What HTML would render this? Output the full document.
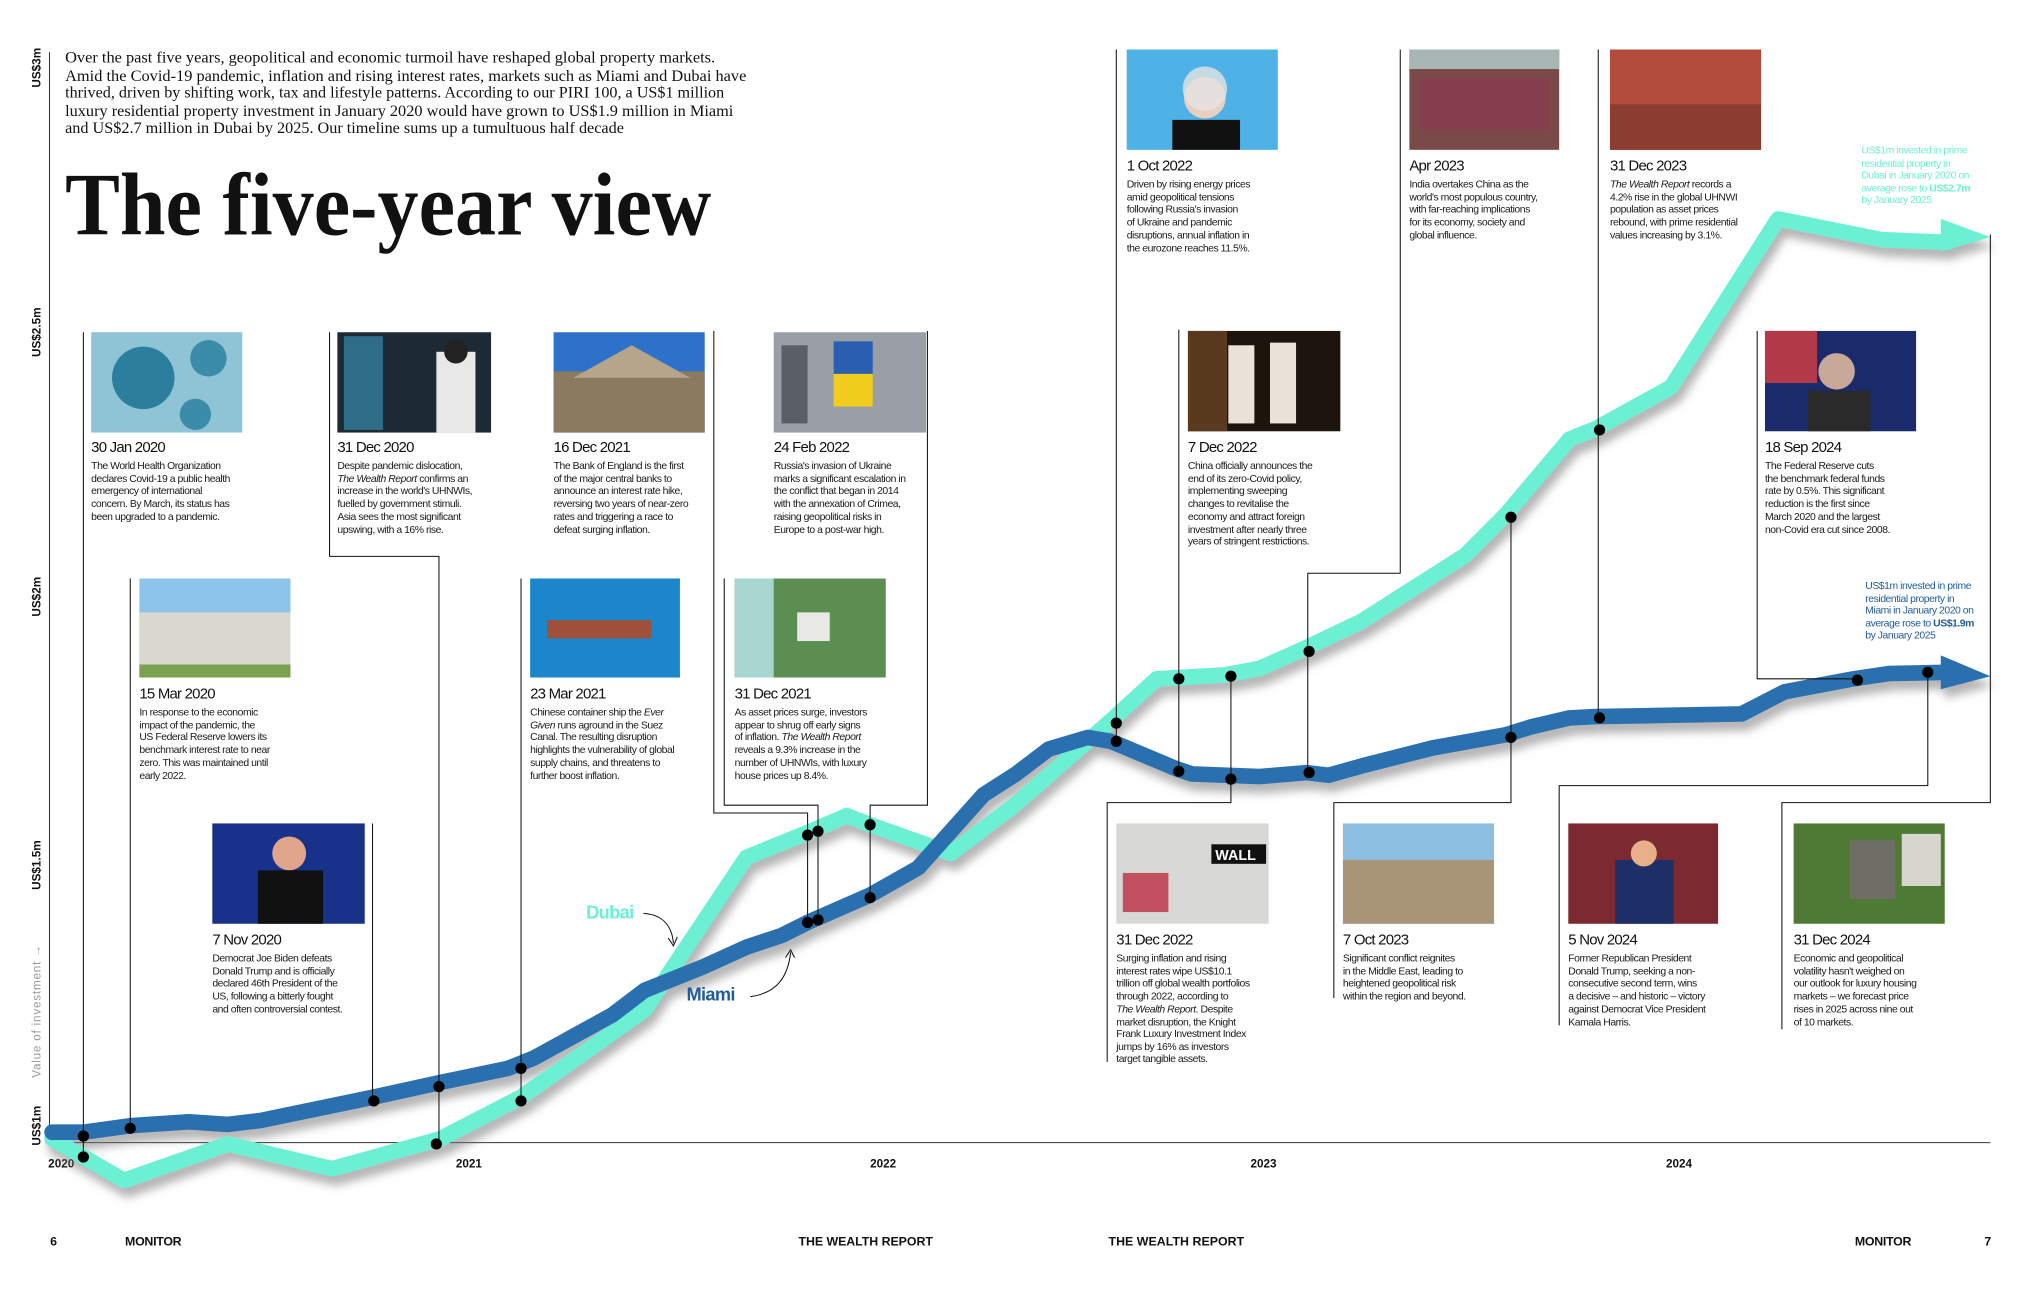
<!DOCTYPE html>
<html><head><meta charset="utf-8"><style>
html,body{margin:0;padding:0;background:#fff}
svg{display:block}
.b{font-family:"Liberation Sans",sans-serif;font-size:8px;letter-spacing:-0.35px;fill:#1a1a1a}
.d{font-family:"Liberation Sans",sans-serif;font-size:11.5px;letter-spacing:-0.6px;fill:#111}
.ax{font-family:"Liberation Sans",sans-serif;font-size:9px;font-weight:bold;fill:#111}
.ft{font-family:"Liberation Sans",sans-serif;font-size:9.5px;font-weight:bold;fill:#111;letter-spacing:-0.2px}
.c{fill:none;stroke:#111;stroke-width:0.8}
</style></head><body>
<svg width="2032" height="1299" viewBox="0 0 1560 997" preserveAspectRatio="none" xmlns="http://www.w3.org/2000/svg">
<defs>
<filter id="sh" x="-10%" y="-10%" width="120%" height="130%"><feDropShadow dx="3" dy="7" stdDeviation="3.5" flood-color="#777" flood-opacity="0.55"/></filter>
</defs>
<!-- axes -->
<line x1="38" y1="40" x2="38" y2="878" stroke="#333" stroke-width="0.8"/>
<line x1="38" y1="877" x2="1528" y2="877" stroke="#333" stroke-width="0.8"/>
<g class="ax">
<text transform="translate(31,52) rotate(-90)" text-anchor="middle">US$3m</text>
<text transform="translate(31,255) rotate(-90)" text-anchor="middle">US$2.5m</text>
<text transform="translate(31,458) rotate(-90)" text-anchor="middle">US$2m</text>
<text transform="translate(31,664) rotate(-90)" text-anchor="middle">US$1.5m</text>
<text transform="translate(31,776) rotate(-90)" text-anchor="middle" style="fill:#999;font-weight:normal;letter-spacing:0.6px">Value of investment  →</text>
<text transform="translate(31,864) rotate(-90)" text-anchor="middle">US$1m</text>
<text x="47" y="896" text-anchor="middle">2020</text>
<text x="360" y="896" text-anchor="middle">2021</text>
<text x="678" y="896" text-anchor="middle">2022</text>
<text x="970" y="896" text-anchor="middle">2023</text>
<text x="1289" y="896" text-anchor="middle">2024</text>
</g>
<g class="ft">
<text x="41" y="956" text-anchor="middle">6</text>
<text x="96" y="956">MONITOR</text>
<text x="613" y="956" textLength="103">THE WEALTH REPORT</text>
<text x="851" y="956" textLength="104">THE WEALTH REPORT</text>
<text x="1424" y="956">MONITOR</text>
<text x="1526" y="956" text-anchor="middle">7</text>
</g>
<!-- intro -->
<g font-family="Liberation Serif,serif" font-size="12.5" fill="#111" lengthAdjust="spacingAndGlyphs">
<text x="50" y="48" textLength="499" lengthAdjust="spacingAndGlyphs">Over the past five years, geopolitical and economic turmoil have reshaped global property markets.</text>
<text x="50" y="62" textLength="523" lengthAdjust="spacingAndGlyphs">Amid the Covid-19 pandemic, inflation and rising interest rates, markets such as Miami and Dubai have</text>
<text x="50" y="75" textLength="506" lengthAdjust="spacingAndGlyphs">thrived, driven by shifting work, tax and lifestyle patterns. According to our PIRI 100, a US$1 million</text>
<text x="50" y="89" textLength="513" lengthAdjust="spacingAndGlyphs">luxury residential property investment in January 2020 would have grown to US$1.9 million in Miami</text>
<text x="50" y="102" textLength="429" lengthAdjust="spacingAndGlyphs">and US$2.7 million in Dubai by 2025. Our timeline sums up a tumultuous half decade</text>
</g>
<text x="50" y="180" font-family="Liberation Serif,serif" font-weight="bold" font-size="68" fill="#111" textLength="496" lengthAdjust="spacingAndGlyphs">The five-year view</text>

<!-- images -->
<g>
<rect x="70" y="255" width="116" height="77" fill="#8fc3d6"/><circle cx="110" cy="290" r="24" fill="#2b7f9c"/><circle cx="160" cy="275" r="14" fill="#3a8ca8"/><circle cx="150" cy="318" r="12" fill="#3a8ca8"/>
<rect x="259" y="255" width="118" height="77" fill="#1d2a33"/><rect x="264" y="258" width="30" height="72" fill="#2f6c88"/><rect x="335" y="270" width="30" height="62" fill="#e8e8e8"/><circle cx="350" cy="270" r="9" fill="#222"/>
<rect x="425" y="255" width="116" height="77" fill="#2d72c8"/><rect x="425" y="285" width="116" height="47" fill="#8a7a60"/><polygon points="440,290 485,265 530,290" fill="#b5a58a"/>
<rect x="594" y="255" width="117" height="77" fill="#9a9ea6"/><rect x="640" y="262" width="30" height="25" fill="#2a5fb0"/><rect x="640" y="287" width="30" height="25" fill="#f2cd1d"/><rect x="600" y="265" width="20" height="60" fill="#5a5e66"/>
<rect x="107" y="444" width="116" height="76" fill="#8cc4ec"/><rect x="107" y="470" width="116" height="40" fill="#d9d7cf"/><rect x="107" y="510" width="116" height="10" fill="#7aa050"/>
<rect x="407" y="444" width="115" height="76" fill="#1b86c9"/><rect x="420" y="476" width="80" height="14" fill="#a0503a"/>
<rect x="564" y="444" width="116" height="76" fill="#5c8e52"/><rect x="564" y="444" width="30" height="76" fill="#a8d7cf"/><rect x="612" y="470" width="25" height="22" fill="#e8e8e4"/>
<rect x="163" y="632" width="117" height="77" fill="#18318a"/><circle cx="222" cy="655" r="13" fill="#e0a58a"/><rect x="198" y="668" width="50" height="41" fill="#111"/>
<rect x="865" y="38" width="116" height="77" fill="#4fb2e6"/><circle cx="925" cy="75" r="16" fill="#e8d0c0"/><circle cx="925" cy="68" r="17" fill="#e3e3e3" opacity="0.8"/><rect x="900" y="92" width="52" height="23" fill="#111"/>
<rect x="1082" y="38" width="115" height="77" fill="#7a4a48"/><rect x="1082" y="38" width="115" height="15" fill="#a7b5b3"/><rect x="1090" y="60" width="100" height="40" fill="#8b3b52" opacity="0.7"/>
<rect x="1236" y="38" width="116" height="77" fill="#b24b3a"/><rect x="1236" y="80" width="116" height="35" fill="#8b3d30"/>
<rect x="912" y="254" width="117" height="77" fill="#1e140e"/><rect x="912" y="254" width="30" height="77" fill="#5a3a1f"/><rect x="943" y="265" width="20" height="60" fill="#e8e2d8"/><rect x="975" y="263" width="20" height="62" fill="#e8e2d8"/>
<rect x="1355" y="254" width="116" height="77" fill="#1a2a6b"/><rect x="1355" y="254" width="40" height="40" fill="#b23a48"/><circle cx="1410" cy="285" r="14" fill="#c8a898"/><rect x="1388" y="300" width="48" height="31" fill="#2a2a2a"/>
<rect x="857" y="632" width="117" height="77" fill="#d8d8d6"/><rect x="930" y="648" width="42" height="15" fill="#111"/><text x="933" y="660" font-family="Liberation Sans,sans-serif" font-size="11" font-weight="bold" fill="#fff">WALL</text><rect x="862" y="670" width="35" height="30" fill="#c25060"/>
<rect x="1031" y="632" width="116" height="77" fill="#8dbfe0"/><rect x="1031" y="660" width="116" height="49" fill="#a99678"/>
<rect x="1204" y="632" width="115" height="77" fill="#7a2a30"/><rect x="1240" y="660" width="45" height="49" fill="#1e2f68"/><circle cx="1262" cy="655" r="10" fill="#e8b08a"/>
<rect x="1377" y="632" width="116" height="77" fill="#4f7a35"/><rect x="1420" y="645" width="35" height="45" fill="#6e6e66"/><rect x="1460" y="640" width="30" height="40" fill="#d8d6cc"/>
</g>

<!-- series -->
<g filter="url(#sh)" fill="none" stroke-linejoin="round" stroke-linecap="round">
<polyline stroke="#6cf0d4" stroke-width="12" points="40,874 95,906 175,878 255,897 338,874 400,842 495,775 573,658 620,639 650,626 668,633 730,655 780,617 853,553 888,521 940,518 967,513 1003,497 1045,477 1125,426 1156,395 1205,337 1225,329 1283,297 1365,168 1445,184 1495,186"/>
<polygon fill="#6cf0d4" points="1490,168 1528,182 1490,193"/>
<polyline stroke="#2a70ae" stroke-width="12" points="40,869 64,869 100,864 145,861 175,863 200,860 287,842 337,831 390,820 410,812 470,779 495,760 540,742 573,727 600,718 620,708 668,687 705,666 755,610 780,594 805,575 835,566 853,569 903,590 915,594 940,595 967,596 1003,593 1020,595 1045,588 1100,574 1156,564 1175,558 1205,551 1225,550 1337,548 1370,531 1423,521 1450,517 1495,516"/>
<polygon fill="#2a70ae" points="1490,503 1528,519 1490,529"/>
</g>

<!-- connectors -->
<g class="c">
<polyline points="64,255 64,888"/>
<polyline points="100,444 100,866"/>
<polyline points="286,632 286,845"/>
<polyline points="253,255 253,427 337,427 337,878"/>
<polyline points="400,444 400,846"/>
<polyline points="548,254 548,624 620,624 620,710"/>
<polyline points="556,444 556,618 628,618 628,708"/>
<polyline points="712,254 712,618 668,618 668,690"/>
<polyline points="857,38 857,569"/>
<polyline points="905,253 905,592"/>
<polyline points="1075,38 1075,440 1004,440 1004,593"/>
<polyline points="1227,38 1227,551"/>
<polyline points="1349,254 1349,521 1426,521"/>
<polyline points="1528,180 1528,616 1368,616 1368,790"/>
<polyline points="945,518 945,616 850,616 850,815"/>
<polyline points="1160,397 1160,616 1024,616 1024,766"/>
<polyline points="1480,516 1480,603 1197,603 1197,787"/>
</g>
<g fill="#000">
<circle cx="64" cy="888" r="4.3"/><circle cx="335" cy="878" r="4.3"/><circle cx="400" cy="845" r="4.3"/><circle cx="620" cy="641" r="4.3"/><circle cx="628" cy="638" r="4.3"/><circle cx="668" cy="633" r="4.3"/><circle cx="857" cy="555" r="4.3"/><circle cx="905" cy="521" r="4.3"/><circle cx="945" cy="519" r="4.3"/><circle cx="1005" cy="500" r="4.3"/><circle cx="1160" cy="397" r="4.3"/><circle cx="1228" cy="330" r="4.3"/>
<circle cx="64" cy="872" r="4.3"/><circle cx="100" cy="866" r="4.3"/><circle cx="287" cy="845" r="4.3"/><circle cx="337" cy="834" r="4.3"/><circle cx="400" cy="820" r="4.3"/><circle cx="620" cy="708" r="4.3"/><circle cx="628" cy="706" r="4.3"/><circle cx="668" cy="689" r="4.3"/><circle cx="857" cy="569" r="4.3"/><circle cx="905" cy="592" r="4.3"/><circle cx="945" cy="598" r="4.3"/><circle cx="1005" cy="593" r="4.3"/><circle cx="1160" cy="566" r="4.3"/><circle cx="1228" cy="551" r="4.3"/><circle cx="1426" cy="522" r="4.3"/><circle cx="1480" cy="516" r="4.3"/>
</g>

<!-- labels Dubai / Miami -->
<text x="450" y="705" font-family="Liberation Sans,sans-serif" font-size="14" font-weight="bold" fill="#6cf0d4" letter-spacing="-0.5">Dubai</text>
<path d="M494,701 C510,702 516,712 517,724" class="c"/><path d="M513,720 L517,726 L520,719" class="c"/>
<text x="527" y="768" font-family="Liberation Sans,sans-serif" font-size="14" font-weight="bold" fill="#1f5c9c" letter-spacing="-0.5">Miami</text>
<path d="M576,765 C598,762 605,748 607,731" class="c"/><path d="M603,735 L607,729 L610,735" class="c"/>

<!-- annotations -->
<g class="b" style="fill:#6cf0d4">
<text x="1429" y="118">US$1m invested in prime</text><text x="1429" y="128">residential property in</text><text x="1429" y="137">Dubai in January 2020 on</text><text x="1429" y="147">average rose to <tspan font-weight="bold">US$2.7m</tspan></text><text x="1429" y="156">by January 2025</text>
</g>
<g class="b" style="fill:#1f5c9c">
<text x="1432" y="452">US$1m invested in prime</text><text x="1432" y="462">residential property in</text><text x="1432" y="471">Miami in January 2020 on</text><text x="1432" y="481">average rose to <tspan font-weight="bold">US$1.9m</tspan></text><text x="1432" y="490">by January 2025</text>
</g>

<!-- card texts -->
<g>
<text class="d" x="70" y="347">30 Jan 2020</text>
<g class="b"><text x="70" y="360">The World Health Organization</text><text x="70" y="370">declares Covid-19 a public health</text><text x="70" y="379">emergency of international</text><text x="70" y="389">concern. By March, its status has</text><text x="70" y="399">been upgraded to a pandemic.</text></g>

<text class="d" x="259" y="347">31 Dec 2020</text>
<g class="b"><text x="259" y="360">Despite pandemic dislocation,</text><text x="259" y="370"><tspan font-style="italic">The Wealth Report</tspan> confirms an</text><text x="259" y="379">increase in the world's UHNWIs,</text><text x="259" y="389">fuelled by government stimuli.</text><text x="259" y="399">Asia sees the most significant</text><text x="259" y="409">upswing, with a 16% rise.</text></g>

<text class="d" x="425" y="347">16 Dec 2021</text>
<g class="b"><text x="425" y="360">The Bank of England is the first</text><text x="425" y="370">of the major central banks to</text><text x="425" y="379">announce an interest rate hike,</text><text x="425" y="389">reversing two years of near-zero</text><text x="425" y="399">rates and triggering a race to</text><text x="425" y="409">defeat surging inflation.</text></g>

<text class="d" x="594" y="347">24 Feb 2022</text>
<g class="b"><text x="594" y="360">Russia's invasion of Ukraine</text><text x="594" y="370">marks a significant escalation in</text><text x="594" y="379">the conflict that began in 2014</text><text x="594" y="389">with the annexation of Crimea,</text><text x="594" y="399">raising geopolitical risks in</text><text x="594" y="409">Europe to a post-war high.</text></g>

<text class="d" x="107" y="536">15 Mar 2020</text>
<g class="b"><text x="107" y="549">In response to the economic</text><text x="107" y="559">impact of the pandemic, the</text><text x="107" y="568">US Federal Reserve lowers its</text><text x="107" y="578">benchmark interest rate to near</text><text x="107" y="588">zero. This was maintained until</text><text x="107" y="598">early 2022.</text></g>

<text class="d" x="407" y="536">23 Mar 2021</text>
<g class="b"><text x="407" y="549">Chinese container ship the <tspan font-style="italic">Ever</tspan></text><text x="407" y="559"><tspan font-style="italic">Given</tspan> runs aground in the Suez</text><text x="407" y="568">Canal. The resulting disruption</text><text x="407" y="578">highlights the vulnerability of global</text><text x="407" y="588">supply chains, and threatens to</text><text x="407" y="598">further boost inflation.</text></g>

<text class="d" x="564" y="536">31 Dec 2021</text>
<g class="b"><text x="564" y="549">As asset prices surge, investors</text><text x="564" y="559">appear to shrug off early signs</text><text x="564" y="568">of inflation. <tspan font-style="italic">The Wealth Report</tspan></text><text x="564" y="578">reveals a 9.3% increase in the</text><text x="564" y="588">number of UHNWIs, with luxury</text><text x="564" y="598">house prices up 8.4%.</text></g>

<text class="d" x="163" y="725">7 Nov 2020</text>
<g class="b"><text x="163" y="738">Democrat Joe Biden defeats</text><text x="163" y="748">Donald Trump and is officially</text><text x="163" y="757">declared 46th President of the</text><text x="163" y="767">US, following a bitterly fought</text><text x="163" y="777">and often controversial contest.</text></g>

<text class="d" x="865" y="131">1 Oct 2022</text>
<g class="b"><text x="865" y="144">Driven by rising energy prices</text><text x="865" y="154">amid geopolitical tensions</text><text x="865" y="163">following Russia's invasion</text><text x="865" y="173">of Ukraine and pandemic</text><text x="865" y="183">disruptions, annual inflation in</text><text x="865" y="193">the eurozone reaches 11.5%.</text></g>

<text class="d" x="1082" y="131">Apr 2023</text>
<g class="b"><text x="1082" y="144">India overtakes China as the</text><text x="1082" y="154">world's most populous country,</text><text x="1082" y="163">with far-reaching implications</text><text x="1082" y="173">for its economy, society and</text><text x="1082" y="183">global influence.</text></g>

<text class="d" x="1236" y="131">31 Dec 2023</text>
<g class="b"><text x="1236" y="144"><tspan font-style="italic">The Wealth Report</tspan> records a</text><text x="1236" y="154">4.2% rise in the global UHNWI</text><text x="1236" y="163">population as asset prices</text><text x="1236" y="173">rebound, with prime residential</text><text x="1236" y="183">values increasing by 3.1%.</text></g>

<text class="d" x="912" y="347">7 Dec 2022</text>
<g class="b"><text x="912" y="360">China officially announces the</text><text x="912" y="370">end of its zero-Covid policy,</text><text x="912" y="379">implementing sweeping</text><text x="912" y="389">changes to revitalise the</text><text x="912" y="399">economy and attract foreign</text><text x="912" y="409">investment after nearly three</text><text x="912" y="418">years of stringent restrictions.</text></g>

<text class="d" x="1355" y="347">18 Sep 2024</text>
<g class="b"><text x="1355" y="360">The Federal Reserve cuts</text><text x="1355" y="370">the benchmark federal funds</text><text x="1355" y="379">rate by 0.5%. This significant</text><text x="1355" y="389">reduction is the first since</text><text x="1355" y="399">March 2020 and the largest</text><text x="1355" y="409">non-Covid era cut since 2008.</text></g>

<text class="d" x="857" y="725">31 Dec 2022</text>
<g class="b"><text x="857" y="738">Surging inflation and rising</text><text x="857" y="748">interest rates wipe US$10.1</text><text x="857" y="757">trillion off global wealth portfolios</text><text x="857" y="767">through 2022, according to</text><text x="857" y="777"><tspan font-style="italic">The Wealth Report</tspan>. Despite</text><text x="857" y="787">market disruption, the Knight</text><text x="857" y="796">Frank Luxury Investment Index</text><text x="857" y="806">jumps by 16% as investors</text><text x="857" y="815">target tangible assets.</text></g>

<text class="d" x="1031" y="725">7 Oct 2023</text>
<g class="b"><text x="1031" y="738">Significant conflict reignites</text><text x="1031" y="748">in the Middle East, leading to</text><text x="1031" y="757">heightened geopolitical risk</text><text x="1031" y="767">within the region and beyond.</text></g>

<text class="d" x="1204" y="725">5 Nov 2024</text>
<g class="b"><text x="1204" y="738">Former Republican President</text><text x="1204" y="748">Donald Trump, seeking a non-</text><text x="1204" y="757">consecutive second term, wins</text><text x="1204" y="767">a decisive – and historic – victory</text><text x="1204" y="777">against Democrat Vice President</text><text x="1204" y="787">Kamala Harris.</text></g>

<text class="d" x="1377" y="725">31 Dec 2024</text>
<g class="b"><text x="1377" y="738">Economic and geopolitical</text><text x="1377" y="748">volatility hasn't weighed on</text><text x="1377" y="757">our outlook for luxury housing</text><text x="1377" y="767">markets – we forecast price</text><text x="1377" y="777">rises in 2025 across nine out</text><text x="1377" y="787">of 10 markets.</text></g>
</g>
</svg>
</body></html>
